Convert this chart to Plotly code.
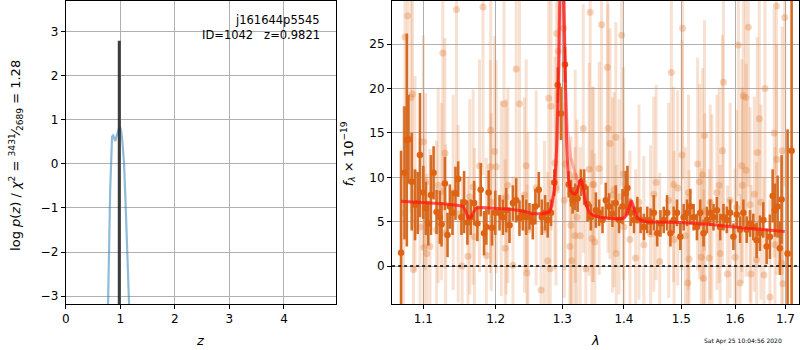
import plotly.graph_objects as go

# ---------------- left panel: p(z) ----------------
pz_z = [0.775, 0.790, 0.800, 0.815, 0.835, 0.850, 0.870, 0.890, 0.910, 0.930, 0.950,
        0.975, 1.000, 1.020, 1.040, 1.055, 1.070, 1.095, 1.120, 1.145, 1.165]
pz_logp = [-3.3, -2.0, -1.1, -0.6, 0.1, 0.62, 0.65, 0.55, 0.52, 0.62, 0.72,
           0.80, 0.82, 0.72, 0.50, 0.25, 0.0, -0.8, -1.6, -2.5, -3.3]
z_best = 0.9821
z_best_top = 2.8
z_ticks = [0, 1, 2, 3, 4]
logp_ticks = [-3, -2, -1, 0, 1, 2, 3]
logp_ticktext = ["−3", "−2", "−1", "0", "1", "2", "3"]

# ---------------- right panel: spectrum ----------------
dark_wave = [1.0710, 1.0754, 1.0784, 1.0806, 1.0848, 1.0891, 1.0926, 1.0956, 1.1000, 1.1034,
             1.1066, 1.1101, 1.1137, 1.1177, 1.1221, 1.1244, 1.1289, 1.1325, 1.1357, 1.1393,
             1.1434, 1.1471, 1.1516, 1.1553, 1.1599, 1.1645, 1.1693, 1.1739, 1.1786, 1.1833,
             1.1866, 1.1899, 1.1947, 1.1994, 1.2056, 1.2105, 1.2153, 1.2201, 1.2251, 1.2299,
             1.2348, 1.2398, 1.2448, 1.2497, 1.2547, 1.2587, 1.2638, 1.2684, 1.2734, 1.2775,
             1.2825, 1.2876, 1.2929, 1.2980, 1.3042, 1.3100, 1.3136, 1.3163, 1.3204, 1.3242,
             1.3294, 1.3347, 1.3401, 1.3454, 1.3535, 1.3589, 1.3644, 1.3698, 1.3752, 1.3808,
             1.3863, 1.3918, 1.3975, 1.4030, 1.4059, 1.4113, 1.4170, 1.4227, 1.4283, 1.4340,
             1.4398, 1.4455, 1.4512, 1.4571, 1.4628, 1.4686, 1.4745, 1.4804, 1.4862, 1.4922,
             1.4982, 1.5042, 1.5103, 1.5163, 1.5223, 1.5284, 1.5345, 1.5406, 1.5469, 1.5530,
             1.5591, 1.5655, 1.5717, 1.5779, 1.5843, 1.5906, 1.5969, 1.6033, 1.6097, 1.6161,
             1.6226, 1.6291, 1.6355, 1.6421, 1.6487, 1.6553, 1.6619, 1.6685, 1.6740, 1.6786,
             1.6840, 1.6886, 1.6921, 1.7043, 1.7126]
dark_flux = [1.5, 10.5, 14.2, 14.3, 9.5, 6.9, 7.1, 12.5, 8.3, 6.5,
             4.8, 8.0, 10.5, 6.1, 5.5, 4.7, 9.3, 3.5, 6.7, 6.0,
             8.2, 9.8, 5.5, 7.2, 4.9, 5.5, 7.1, 4.8, 8.6, 3.7,
             4.4, 8.3, 4.3, 6.0, 6.0, 5.5, 6.3, 4.6, 7.1, 7.4,
             5.4, 6.0, 5.5, 5.6, 5.0, 6.7, 8.6, 5.5, 6.0, 5.2,
             6.0, 9.4, 20.4, 17.2, 22.7, 9.2, 8.2, 7.4, 7.8, 7.6,
             9.4, 8.9, 7.0, 5.5, 6.3, 6.0, 5.2, 7.4, 6.7, 5.9,
             7.1, 5.2, 6.7, 8.2, 8.8, 6.0, 5.2, 6.3, 5.2, 4.4,
             5.2, 5.0, 6.0, 3.7, 4.8, 5.2, 6.0, 3.7, 5.2, 6.0,
             3.3, 5.5, 6.0, 6.7, 5.5, 4.4, 6.0, 3.7, 5.2, 6.0,
             5.5, 6.3, 4.4, 5.5, 5.2, 6.0, 3.3, 5.8, 4.1, 6.0,
             4.1, 4.8, 4.4, 2.9, 3.7, 5.2, 2.2, 3.3, 7.9, 6.3,
             6.7, 2.0, 7.5, 1.4, 13.0]
dark_err = [11.5, 7.5, 12.0, 5.0, 5.5, 4.0, 3.5, 7.0, 3.0, 3.0,
            2.5, 4.5, 3.0, 2.5, 3.0, 2.5, 3.0, 2.5, 2.5, 2.5,
            3.0, 2.0, 2.0, 3.5, 2.5, 2.0, 2.5, 2.0, 3.0, 2.5,
            2.0, 2.5, 2.0, 2.5, 2.0, 2.0, 2.5, 2.0, 2.0, 2.5,
            2.0, 2.0, 2.0, 1.5, 2.0, 2.0, 2.0, 2.0, 2.0, 2.0,
            1.5, 1.5, 2.0, 3.0, 2.0, 1.5, 1.5, 1.5, 1.5, 1.5,
            1.5, 2.0, 2.0, 1.5, 2.0, 1.5, 1.5, 2.0, 1.5, 1.5,
            2.0, 1.5, 2.0, 2.5, 2.5, 1.5, 1.5, 1.5, 1.5, 1.5,
            1.5, 1.5, 2.0, 1.5, 1.5, 1.5, 2.0, 1.5, 1.5, 1.5,
            1.5, 1.5, 1.5, 2.0, 1.5, 1.5, 1.5, 1.5, 1.5, 1.5,
            1.5, 1.5, 1.5, 1.5, 1.5, 1.5, 1.5, 1.5, 1.5, 1.5,
            1.5, 1.5, 1.5, 2.0, 2.0, 2.0, 2.0, 2.5, 3.0, 3.0,
            3.5, 3.0, 5.0, 14.0, 30.0]

light_wave = [1.0741, 1.0761, 1.0795, 1.0839, 1.0857, 1.0870, 1.0891, 1.0956, 1.1000, 1.1008,
              1.1030, 1.1045, 1.1088, 1.1177, 1.1199, 1.1244, 1.1261, 1.1289, 1.1300, 1.1402,
              1.1448, 1.1471, 1.1525, 1.1607, 1.1632, 1.1679, 1.1697, 1.1769, 1.1819, 1.1866,
              1.1924, 1.1928, 1.1937, 1.1984, 1.2008, 1.2081, 1.2120, 1.2139, 1.2153, 1.2177,
              1.2251, 1.2299, 1.2348, 1.2423, 1.2448, 1.2460, 1.2473, 1.2598, 1.2673, 1.2724,
              1.2775, 1.2790, 1.2814, 1.2825, 1.2886, 1.2902, 1.2912, 1.2937, 1.3022, 1.3031,
              1.3042, 1.3120, 1.3136, 1.3150, 1.3200, 1.3204, 1.3231, 1.3283, 1.3332, 1.3373,
              1.3427, 1.3443, 1.3470, 1.3481, 1.3500, 1.3519, 1.3589, 1.3629, 1.3725, 1.3735,
              1.3768, 1.3808, 1.3835, 1.3863, 1.3870, 1.3918, 1.3962, 1.3991, 1.4000, 1.4101,
              1.4198, 1.4255, 1.4340, 1.4455, 1.4512, 1.4553, 1.4616, 1.4774, 1.4821, 1.4862,
              1.4870, 1.4934, 1.5012, 1.5023, 1.5073, 1.5115, 1.5131, 1.5140, 1.5296, 1.5332,
              1.5364, 1.5388, 1.5406, 1.5424, 1.5430, 1.5512, 1.5530, 1.5562, 1.5655, 1.5698,
              1.5717, 1.5760, 1.5779, 1.5855, 1.5906, 1.6001, 1.6033, 1.6064, 1.6097, 1.6130,
              1.6142, 1.6161, 1.6206, 1.6215, 1.6258, 1.6291, 1.6310, 1.6375, 1.6421, 1.6433,
              1.6473, 1.6506, 1.6566, 1.6586, 1.6685, 1.6770, 1.6786, 1.6815, 1.6822, 1.6921,
              1.6932, 1.6945, 1.6985]
light_flux = [6.0, 25.8, 28.2, 19.0, 19.4, -0.4, 10.4, 4.4, 14.0, 2.1,
              9.5, 1.4, 2.2, 4.1, 9.1, 8.4, 24.0, 12.7, 3.7, 8.3,
              28.9, 5.9, 0.0, 1.1, 7.8, 8.9, 3.3, 11.3, 29.2, 1.2,
              11.2, 15.3, 7.2, 12.9, 11.2, 7.6, 18.3, 2.0, 7.8, 9.1,
              0.1, 22.2, 18.3, 8.0, 11.3, -0.8, 4.1, 8.8, -2.7, 4.1,
              0.6, 18.9, -0.3, 18.0, 11.6, 8.8, 26.2, 24.2, 26.8, 7.4,
              11.5, 2.2, 4.6, 0.6, 3.4, 10.1, 5.5, 3.4, 15.5, -0.3,
              10.9, 28.6, 3.1, 9.2, 9.2, 2.7, 11.0, 27.2, 22.4, 15.5,
              13.8, 8.0, 8.6, 14.5, 1.4, 7.8, 26.0, 10.4, 4.4, 3.0,
              0.9, 7.2, 2.4, 3.6, 8.1, 9.4, 0.5, 7.4, 21.8, 9.2,
              3.0, 8.8, 12.5, 26.8, 3.4, -1.9, 8.3, 0.8, 11.5, 9.5,
              1.0, 10.3, -1.4, 14.7, 6.2, 0.9, 7.2, 6.1, 8.3, 9.1,
              1.4, 13.0, 20.7, -0.9, 7.4, 1.0, 6.6, 24.9, -1.9, 11.3,
              9.1, 19.2, 19.0, 10.8, 26.9, 6.9, -0.9, 8.1, 0.7, 12.8,
              16.6, 7.2, -1.0, 20.0, -3.5, 15.0, 2.4, 29.3, 12.0, 0.3,
              13.0, -2.0, 28.0]
light_err = [12, 17, 19, 13, 15, 9, 11, 10, 12, 9,
             10, 9, 11, 10, 11, 10, 17, 13, 10, 11,
             19, 10, 10, 9, 11, 11, 10, 12, 19, 11,
             12, 15, 10, 13, 12, 11, 14, 10, 11, 11,
             10, 16, 14, 11, 12, 10, 11, 11, 11, 10,
             10, 14, 10, 14, 12, 11, 17, 16, 17, 11,
             12, 10, 10, 10, 10, 12, 11, 10, 14, 10,
             12, 18, 10, 11, 11, 10, 12, 18, 16, 14,
             13, 11, 11, 13, 10, 11, 17, 12, 10, 10,
             10, 11, 10, 10, 11, 11, 10, 11, 16, 11,
             10, 11, 13, 17, 10, 10, 11, 10, 12, 11,
             10, 12, 10, 13, 11, 10, 11, 11, 11, 11,
             10, 13, 15, 10, 11, 10, 11, 17, 10, 12,
             11, 15, 15, 12, 18, 11, 10, 11, 11, 13,
             14, 11, 11, 15, 11, 14, 11, 19, 13, 12,
             14, 12, 19]

model_wave = [1.071, 1.090, 1.110, 1.130, 1.150, 1.154, 1.157, 1.159, 1.161, 1.163,
              1.165, 1.168, 1.172, 1.180, 1.200, 1.220, 1.240, 1.255, 1.270, 1.280,
              1.284, 1.288, 1.291, 1.294, 1.296, 1.2975, 1.299, 1.3005, 1.302, 1.3035,
              1.3050, 1.3068, 1.3094, 1.3130, 1.3163, 1.3200, 1.3231, 1.3260, 1.3283, 1.3300,
              1.3321, 1.3350, 1.3373, 1.3427, 1.3535, 1.3700, 1.3945, 1.4000, 1.4040, 1.4080,
              1.4110, 1.4135, 1.4160, 1.4190, 1.4230, 1.4300, 1.4400, 1.4500, 1.4980, 1.5500,
              1.5970, 1.6500, 1.6985]
model_flux = [7.3, 7.2, 7.1, 7.0, 6.8, 6.7, 6.3, 5.8, 5.4, 5.4,
              5.5, 6.0, 6.5, 6.6, 6.5, 6.4, 6.2, 5.9, 5.9, 6.1,
              6.8, 9.0, 13.0, 21.0, 30.0, 37.0, 40.0, 38.0, 32.0, 25.0,
              19.0, 14.0, 9.9, 8.5, 8.2, 8.1, 8.4, 9.1, 9.6, 9.7,
              9.1, 7.8, 7.0, 6.0, 5.6, 5.4, 5.3, 5.4, 5.7, 6.4,
              7.1, 7.2, 6.6, 5.9, 5.4, 5.1, 5.0, 4.95, 4.9, 4.7,
              4.4, 4.15, 3.9]
pale_wave = [1.270, 1.280, 1.288, 1.292, 1.295, 1.2975, 1.300, 1.302, 1.305, 1.308,
             1.313, 1.319, 1.325, 1.330, 1.335, 1.340, 1.346, 1.360, 1.390, 1.400,
             1.406, 1.411, 1.416, 1.424, 1.435, 1.450]
pale_flux = [5.9, 6.1, 8.5, 13.5, 22.0, 32.0, 36.0, 30.0, 20.0, 15.5,
             12.3, 10.8, 9.4, 9.8, 8.5, 6.8, 5.8, 5.5, 5.3, 5.5,
             6.4, 7.6, 6.8, 5.6, 5.0, 4.9]
zero_wave = [1.0595, 1.7283]
zero_flux = [0, 0]

lam_ticks = [1.1, 1.2, 1.3, 1.4, 1.5, 1.6, 1.7]
flux_ticks = [0, 5, 10, 15, 20, 25]

FONT = "DejaVu Sans"
W, H = 800, 350

fig = go.Figure()

# left panel
fig.add_trace(go.Scatter(x=pz_z, y=pz_logp, mode="lines",
                         line=dict(color="rgba(31,119,180,0.5)", width=2.2),
                         xaxis="x", yaxis="y", showlegend=False, hoverinfo="skip"))
fig.add_trace(go.Scatter(x=[z_best, z_best], y=[-3.3, z_best_top], mode="lines",
                         line=dict(color="rgba(40,40,40,0.9)", width=3),
                         xaxis="x", yaxis="y", showlegend=False, hoverinfo="skip"))

# right panel: light points
fig.add_trace(go.Scatter(x=light_wave, y=light_flux, mode="markers",
                         marker=dict(color="rgba(225,125,55,0.33)", size=7, line=dict(width=0)),
                         error_y=dict(type="data", array=light_err, visible=True,
                                      color="rgba(228,135,70,0.25)", thickness=3, width=0),
                         xaxis="x2", yaxis="y2", showlegend=False, hoverinfo="skip"))
# dark points
fig.add_trace(go.Scatter(x=dark_wave, y=dark_flux, mode="markers",
                         marker=dict(color="rgb(222,98,18)", size=6.5, line=dict(width=0)),
                         error_y=dict(type="data", array=dark_err, visible=True,
                                      color="rgb(214,108,36)", thickness=2.6, width=0),
                         xaxis="x2", yaxis="y2", showlegend=False, hoverinfo="skip"))
# models
fig.add_trace(go.Scatter(x=pale_wave, y=pale_flux, mode="lines",
                         line=dict(color="rgba(255,40,40,0.3)", width=3),
                         xaxis="x2", yaxis="y2", showlegend=False, hoverinfo="skip"))
fig.add_trace(go.Scatter(x=model_wave, y=model_flux, mode="lines",
                         line=dict(color="rgba(255,20,20,0.72)", width=3),
                         xaxis="x2", yaxis="y2", showlegend=False, hoverinfo="skip"))
fig.add_trace(go.Scatter(x=zero_wave, y=zero_flux, mode="lines",
                         line=dict(color="black", width=1.6, dash="dot"),
                         xaxis="x2", yaxis="y2", showlegend=False, hoverinfo="skip"))

axis_common = dict(showline=True, mirror=True, linecolor="black", linewidth=1,
                   ticks="outside", ticklen=4, tickwidth=1, tickcolor="black",
                   showgrid=True, gridcolor="#b0b0b0", gridwidth=1, zeroline=False,
                   tickfont=dict(family=FONT, size=12, color="black"))

y0 = 1 - 304 / H
y1 = 1 - 1 / H
fig.update_layout(
    width=W, height=H, margin=dict(l=0, r=0, t=0, b=0),
    paper_bgcolor="white", plot_bgcolor="white",
    xaxis=dict(domain=[62 / W, 334 / W], range=[0, 4.96], tickvals=z_ticks,
               anchor="y", **axis_common),
    yaxis=dict(domain=[y0, y1], range=[-3.18, 3.70], tickvals=logp_ticks,
               ticktext=logp_ticktext, anchor="x", **axis_common),
    xaxis2=dict(domain=[390 / W, 799 / W], type="log", range=[0.025084, 0.237513],
                tickvals=lam_ticks, ticktext=[str(t) for t in lam_ticks],
                anchor="y2", **axis_common),
    yaxis2=dict(domain=[y0, y1], range=[-4.28, 29.87], tickvals=flux_ticks,
                anchor="x2", **axis_common),
    annotations=[
        dict(text="j161644p5545", x=320 / W, y=1 - 20 / H, xref="paper", yref="paper",
             xanchor="right", yanchor="middle", showarrow=False,
             font=dict(family=FONT, size=11.5, color="black")),
        dict(text="ID=1042   z=0.9821", x=320 / W, y=1 - 35 / H, xref="paper", yref="paper",
             xanchor="right", yanchor="middle", showarrow=False,
             font=dict(family=FONT, size=11.5, color="black")),
        dict(text="<i>z</i>", x=197 / W, y=1 - 340 / H, xref="paper", yref="paper",
             xanchor="center", yanchor="middle", showarrow=False,
             font=dict(family=FONT, size=13, color="black")),
        dict(text="<i>λ</i>", x=594 / W, y=1 - 340 / H, xref="paper", yref="paper",
             xanchor="center", yanchor="middle", showarrow=False,
             font=dict(family=FONT, size=13, color="black")),
        dict(text="log <i>p</i>(<i>z</i>) / <i>χ</i><sup>2</sup> = <sup>3431</sup>⁄<sub>2689</sub> = 1.28",
             x=12 / W, y=1 - 155 / H, xref="paper", yref="paper", textangle=-90,
             xanchor="center", yanchor="middle", showarrow=False,
             font=dict(family=FONT, size=13, color="black")),
        dict(text="<i>f</i><sub><i>λ</i></sub> × 10<sup>−19</sup>",
             x=346 / W, y=1 - 154 / H, xref="paper", yref="paper", textangle=-90,
             xanchor="center", yanchor="middle", showarrow=False,
             font=dict(family=FONT, size=13, color="black")),
        dict(text="Sat Apr 25 10:04:56 2020", x=743 / W, y=1 - 341 / H,
             xref="paper", yref="paper", xanchor="center", yanchor="middle",
             showarrow=False, font=dict(family=FONT, size=6, color="black")),
    ],
)

fig.write_html("out.html", config={"displayModeBar": False},
               post_script="document.body.style.margin='0';document.body.style.padding='0';")
